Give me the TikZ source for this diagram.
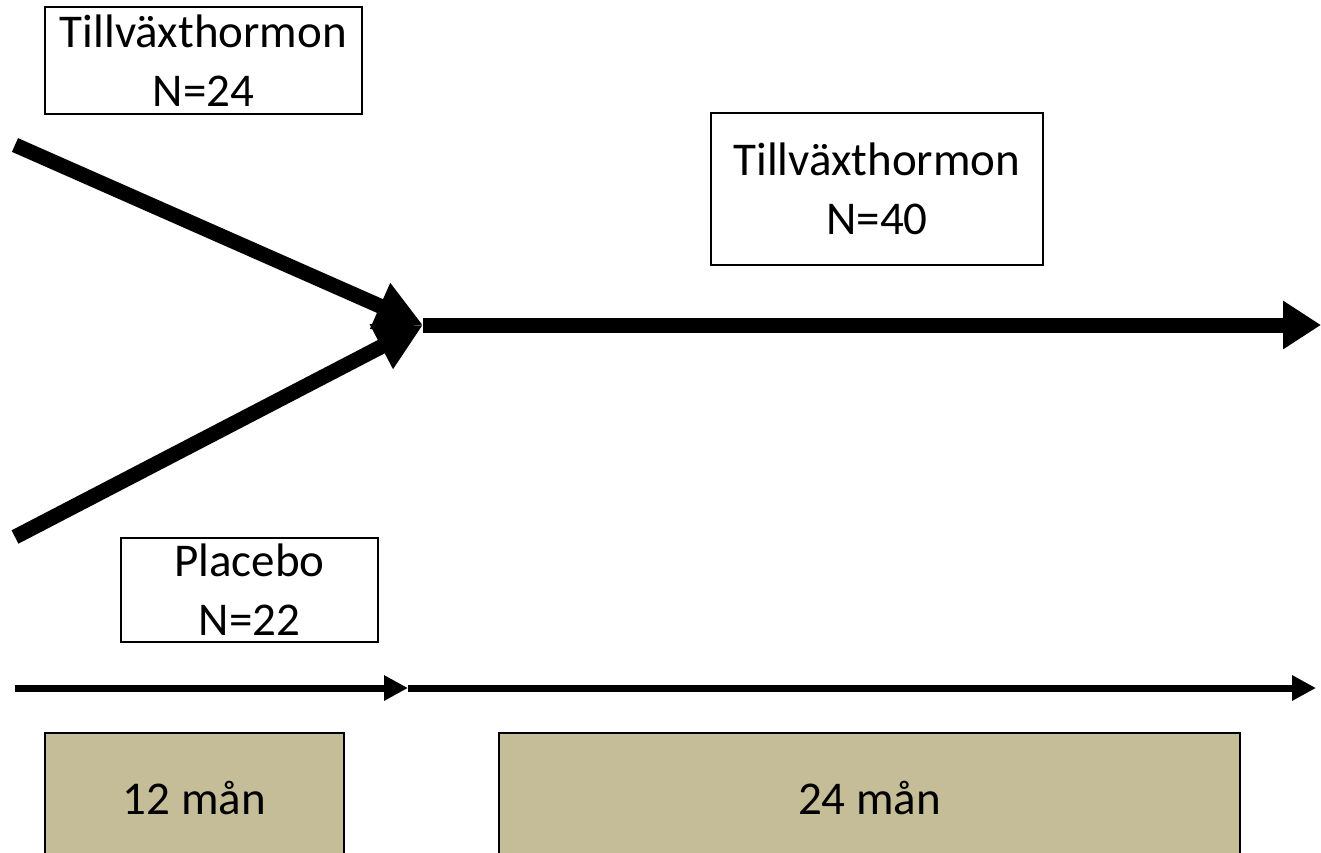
\documentclass[tikz,border=0pt]{standalone}
\usepackage{fontspec}
\setmainfont{Carlito}
\usetikzlibrary{arrows.meta,positioning}
\definecolor{tan}{HTML}{C4BD97}
\tikzset{grp/.style={draw, line width=1.3pt, align=center, inner sep=0pt,
		font=\fontsize{47}{59}\selectfont},
	period/.style={grp, fill=tan},
	flow/.style={line width=15pt, -{Triangle[length=47pt, width=47pt]}},
	tline/.style={line width=7pt, -{Triangle[length=24pt, width=24pt]}}}

\begin{document}
\begin{tikzpicture}[x=1pt, y=-1pt]
	\useasboundingbox (0,0) rectangle (1321,852);

	\node[grp, minimum width=317pt, minimum height=107pt] (gh24) at (203.5,60.5) {Tillväxthormon\\N=24};
	\node[grp, minimum width=332pt, minimum height=152pt] (gh40) at (877,189) {Tillväxthormon\\N=40};
	\node[grp, minimum width=257pt, minimum height=104pt] (pla) at (249.5,590) {Placebo\\N=22};
	\node[period, minimum width=299pt, minimum height=130pt] (m12) at (194.5,798) {12 mån};
	\node[period, minimum width=741pt, minimum height=130pt] (m24) at (869.5,798) {24 mån};

	\coordinate (ghIn) at (15,145);
	\coordinate (plIn) at (15,537);
	\coordinate (merge) at (423,325);
	\coordinate (out) at (1321,325);
	\draw[flow] (ghIn) -- (merge);
	\draw[flow] (plIn) -- (merge);
	\draw[flow, -{Triangle[length=38pt, width=46pt]}] (merge) -- (out);

	\coordinate (t0) at (15,688);
	\coordinate (t1) at (408,688);
	\coordinate (t2) at (1316,688);
	\draw[tline] (t0) -- (t1);
	\draw[tline] (t1) -- (t2);
\end{tikzpicture}
\end{document}
